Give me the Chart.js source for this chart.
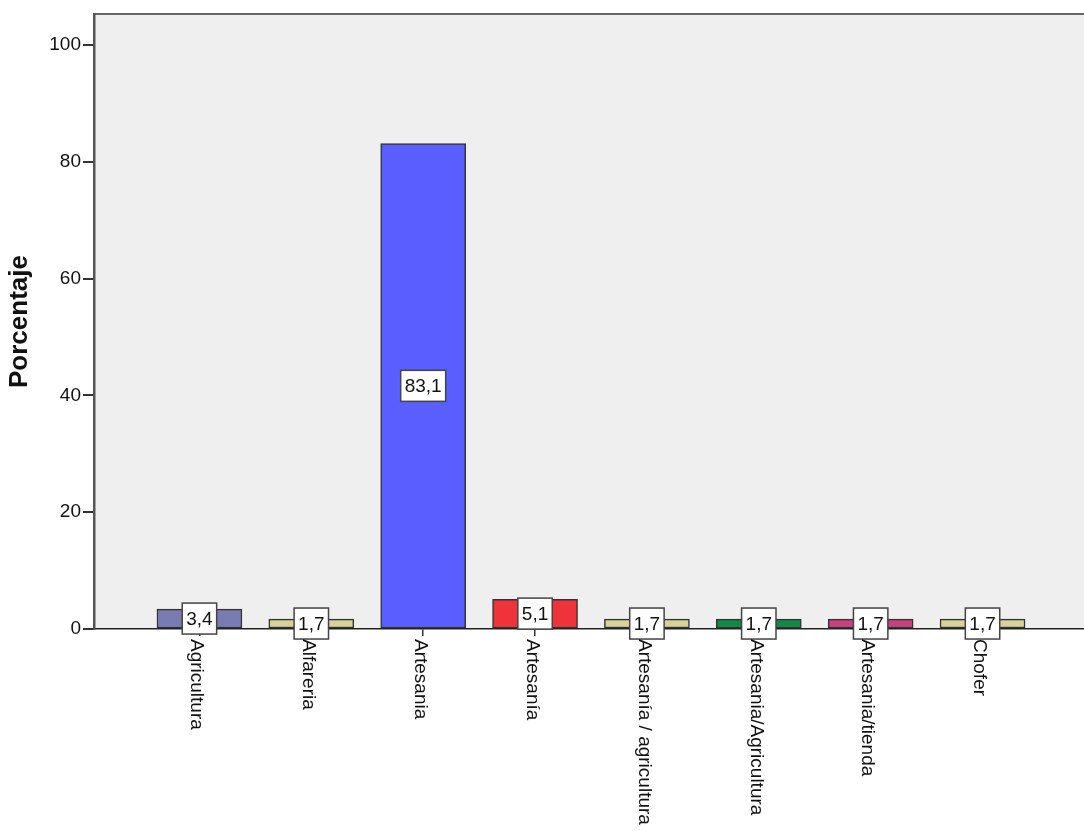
<!DOCTYPE html>
<html>
<head>
<meta charset="utf-8">
<script src="https://cdn.jsdelivr.net/npm/chart.js@4"></script>
<style>
  body { margin: 0; background: #ffffff; }
  #wrap { width: 1084px; height: 831px; }
</style>
</head>
<body>
<div id="wrap"><canvas id="chart" width="1084" height="831"></canvas></div>
<script>
const categories = ["Agricultura", "Alfareria", "Artesania", "Artesanía", "Artesanía / agricultura", "Artesania/Agricultura", "Artesania/tienda", "Chofer"];
const percentages = [3.4, 1.7, 83.1, 5.1, 1.7, 1.7, 1.7, 1.7];
const barColors = ["#7b7bb3", "#d6d29a", "#5b5eff", "#f0333b", "#d6d29a", "#0e8a44", "#c9407f", "#d6d29a"];
const yTicks = [0, 20, 40, 60, 80, 100];

const FONT = "'Liberation Sans', Arial, sans-serif";

// grey plot background plus the top border line
const plotBackground = {
    id: 'plotBackground',
    beforeDraw(chart) {
        const {ctx, chartArea} = chart;
        ctx.save();
        ctx.fillStyle = '#efefef';
        ctx.fillRect(chartArea.left, chartArea.top, chartArea.right - chartArea.left, chartArea.bottom - chartArea.top);
        ctx.strokeStyle = '#666666';
        ctx.lineWidth = 2;
        ctx.beginPath();
        ctx.moveTo(chartArea.left, chartArea.top);
        ctx.lineTo(chartArea.right, chartArea.top);
        ctx.stroke();
        ctx.restore();
    }
};

// value boxes in the middle of each bar
const valueBoxes = {
    id: 'valueBoxes',
    afterDatasetsDraw(chart) {
        const {ctx} = chart;
        const meta = chart.getDatasetMeta(0);
        ctx.save();
        ctx.font = '19px ' + FONT;
        ctx.textAlign = 'center';
        ctx.textBaseline = 'middle';
        meta.data.forEach((bar, i) => {
            const text = percentages[i].toFixed(1).replace('.', ',');
            const w = ctx.measureText(text).width + 8;
            const h = 31;
            const cy = (bar.y + bar.base) / 2;
            ctx.fillStyle = '#ffffff';
            ctx.fillRect(bar.x - w / 2, cy - h / 2, w, h);
            ctx.strokeStyle = '#444444';
            ctx.lineWidth = 1.5;
            ctx.strokeRect(bar.x - w / 2, cy - h / 2, w, h);
            ctx.fillStyle = '#111111';
            ctx.fillText(text, bar.x, cy + 1);
        });
        ctx.restore();
    }
};

// category labels, turned clockwise and reading downwards
const categoryLabels = {
    id: 'categoryLabels',
    afterDraw(chart) {
        const {ctx} = chart;
        const xScale = chart.scales.x;
        ctx.save();
        ctx.font = '19px ' + FONT;
        ctx.fillStyle = '#111111';
        ctx.textAlign = 'left';
        ctx.textBaseline = 'middle';
        categories.forEach((label, i) => {
            const x = xScale.getPixelForValue(i);
            ctx.save();
            ctx.translate(x - 3, chart.chartArea.bottom + 10);
            ctx.rotate(Math.PI / 2);
            ctx.fillText(label, 0, 0);
            ctx.restore();
        });
        ctx.restore();
    }
};

const config = {
    type: 'bar',
    data: {
        datasets: [{
            data: percentages.map((v, i) => ({x: i, y: v})),
            backgroundColor: barColors,
            borderColor: '#333333',
            borderWidth: 1.5,
            borderSkipped: false,
            barThickness: 85,
        }]
    },
    options: {
        responsive: false,
        animation: false,
        layout: {
            padding: {top: 14, right: 0, left: 0, bottom: 0},
        },
        scales: {
            x: {
                type: 'linear',
                offset: false,
                min: -0.9425,
                max: 7.907,
                afterBuildTicks: (scale) => {
                    scale.ticks = scale.ticks.filter(t => Number.isInteger(t.value) && t.value >= 0 && t.value < categories.length);
                },
                afterFit: (scale) => { scale.height = 831 - 629; },
                ticks: {
                    stepSize: 1,
                    display: false,
                },
                grid: {
                    display: true,
                    offset: false,
                    drawOnChartArea: false,
                    drawTicks: true,
                    tickLength: 7,
                    color: '#333333',
                    lineWidth: 1.5,
                },
                border: {
                    display: true,
                    color: '#222222',
                    width: 1.5,
                },
            },
            y: {
                min: 0,
                max: 105.3,
                afterBuildTicks: (scale) => {
                    scale.ticks = yTicks.map(v => ({value: v}));
                },
                afterFit: (scale) => { scale.width = 94; },
                ticks: {
                    stepSize: 20,
                    color: '#111111',
                    padding: 2,
                    font: {family: FONT, size: 19},
                },
                grid: {
                    display: true,
                    drawOnChartArea: false,
                    drawTicks: true,
                    tickLength: 11,
                    color: '#333333',
                    lineWidth: 2,
                },
                border: {
                    display: true,
                    color: '#555555',
                    width: 2.5,
                },
                title: {
                    display: true,
                    text: 'Porcentaje',
                    color: '#111111',
                    padding: {top: 4, bottom: 0},
                    font: {family: FONT, size: 26, weight: 'bold'},
                },
            }
        },
        plugins: {
            legend: {display: false},
            tooltip: {enabled: false},
        },
    },
    plugins: [plotBackground, valueBoxes, categoryLabels],
};

new Chart(document.getElementById('chart'), config);
</script>
</body>
</html>
